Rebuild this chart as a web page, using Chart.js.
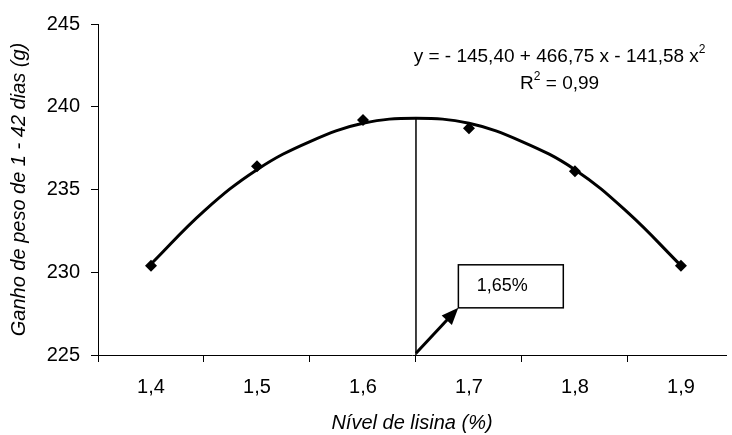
<!DOCTYPE html>
<html>
<head>
<meta charset="utf-8">
<script src="https://cdn.jsdelivr.net/npm/chart.js@4/dist/chart.umd.min.js"></script>
<style>
  html, body { margin: 0; padding: 0; background: #fff; }
  #wrap { width: 732px; height: 435px; }
</style>
</head>
<body>
<div id="wrap"><canvas id="chart" width="732" height="435"></canvas></div>
<script>
// lysine levels tested and weight gain measured at each
const lysine = [1.4, 1.5, 1.6, 1.7, 1.8, 1.9];
const tickLabels = ['1,4', '1,5', '1,6', '1,7', '1,8', '1,9'];
const gain = [230.4, 236.4, 239.2, 238.7, 236.1, 230.4];

// fitted quadratic trend
const curveX = [1.4, 1.45, 1.5, 1.55, 1.6, 1.65, 1.7, 1.75, 1.8, 1.85, 1.9];
const curveY = [230.5, 233.7, 236.2, 237.9, 239.0, 239.3, 239.0, 237.9, 236.2, 233.6, 230.4];

// axis tick marks sit between the level labels
const tickEdges = [1.35, 1.45, 1.55, 1.65, 1.75, 1.85];

// optimum level and its gain
const optimum = 1.65;
const peakGain = 239.3;
const optimumLabel = '1,65%';
const equation = 'y = - 145,40 + 466,75 x - 141,58 x';
const rSquared = 'R';
const rSquaredValue = ' = 0,99';

const FONT = '"Liberation Sans", Arial, sans-serif';

const notes = {
    id: 'notes',
    afterDatasetsDraw(chart) {
        const ctx = chart.ctx;
        const x = chart.scales.x, y = chart.scales.y;
        ctx.save();
        ctx.strokeStyle = '#000';
        ctx.fillStyle = '#000';

        // vertical line at the optimum
        ctx.lineWidth = 1.5;
        ctx.beginPath();
        ctx.moveTo(x.getPixelForValue(optimum), y.getPixelForValue(225));
        ctx.lineTo(x.getPixelForValue(optimum), y.getPixelForValue(peakGain));
        ctx.stroke();

        // label box
        const bx0 = x.getPixelForValue(1.69), bx1 = x.getPixelForValue(1.789);
        const by0 = y.getPixelForValue(230.45), by1 = y.getPixelForValue(227.85);
        ctx.fillStyle = '#fff';
        ctx.fillRect(bx0, by0, bx1 - bx0, by1 - by0);
        ctx.fillStyle = '#000';
        ctx.lineWidth = 1.5;
        ctx.strokeRect(bx0, by0, bx1 - bx0, by1 - by0);
        ctx.font = '18px ' + FONT;
        ctx.textAlign = 'center';
        ctx.textBaseline = 'middle';
        ctx.fillText(optimumLabel, x.getPixelForValue(1.7313), (by0 + by1) / 2);

        // arrow from the optimum to the box corner
        const ax0 = x.getPixelForValue(optimum), ay0 = y.getPixelForValue(225.1);
        const ax1 = bx0, ay1 = by1;
        const ang = Math.atan2(ay1 - ay0, ax1 - ax0);
        const headLen = 17, headW = 7;
        ctx.lineWidth = 3;
        ctx.beginPath();
        ctx.moveTo(ax0, ay0);
        ctx.lineTo(ax1 - Math.cos(ang) * (headLen - 2), ay1 - Math.sin(ang) * (headLen - 2));
        ctx.stroke();
        ctx.beginPath();
        ctx.moveTo(ax1, ay1);
        ctx.lineTo(ax1 - Math.cos(ang) * headLen + Math.sin(ang) * headW,
                   ay1 - Math.sin(ang) * headLen - Math.cos(ang) * headW);
        ctx.lineTo(ax1 - Math.cos(ang) * headLen - Math.sin(ang) * headW,
                   ay1 - Math.sin(ang) * headLen + Math.cos(ang) * headW);
        ctx.closePath();
        ctx.fill();

        // regression equation and R²
        const cx = x.getPixelForValue(1.7855);
        ctx.font = '19px ' + FONT;
        ctx.textAlign = 'left';
        ctx.textBaseline = 'alphabetic';
        const small = '12px ' + FONT;
        let w1 = ctx.measureText(equation).width;
        ctx.font = small;
        const sup = ctx.measureText('2').width;
        let left = cx - (w1 + sup) / 2;
        const base1 = y.getPixelForValue(242.7);
        ctx.font = '19px ' + FONT;
        ctx.fillText(equation, left, base1);
        ctx.font = small;
        ctx.fillText('2', left + w1, base1 - 9);

        ctx.font = '19px ' + FONT;
        const wr = ctx.measureText(rSquared).width;
        const wv = ctx.measureText(rSquaredValue).width;
        left = cx - (wr + sup + wv) / 2;
        const base2 = y.getPixelForValue(241.1);
        ctx.fillText(rSquared, left, base2);
        ctx.fillText(rSquaredValue, left + wr + sup, base2);
        ctx.font = small;
        ctx.fillText('2', left + wr, base2 - 9);
        ctx.restore();
    }
};

new Chart(document.getElementById('chart'), {
    type: 'scatter',
    data: {
        datasets: [
            {
                label: 'Tendência',
                type: 'line',
                data: curveX.map((v, i) => ({ x: v, y: curveY[i] })),
                borderColor: '#000',
                borderWidth: 3,
                pointRadius: 0,
                tension: 0.4,
                fill: false,
                order: 2
            },
            {
                label: 'Ganho de peso',
                data: lysine.map((v, i) => ({ x: v, y: gain[i] })),
                pointStyle: 'rectRot',
                pointRadius: 6,
                backgroundColor: '#000',
                borderColor: '#000',
                borderWidth: 0,
                order: 1
            }
        ]
    },
    options: {
        responsive: false,
        animation: false,
        layout: { padding: { top: 24, right: 0, left: 0, bottom: 0 } },
        plugins: { legend: { display: false }, tooltip: { enabled: false } },
        scales: {
            x: {
                type: 'linear',
                min: 1.35,
                max: 1.9425,
                afterBuildTicks: scale => {
                    scale.ticks = tickEdges.concat(lysine)
                        .sort((a, b) => a - b)
                        .map(v => ({ value: v }));
                },
                afterFit: scale => { scale.height = 80; },
                border: { display: true, color: '#000', width: 1 },
                grid: {
                    drawOnChartArea: false,
                    tickLength: 7,
                    tickWidth: 1,
                    tickColor: c => lysine.includes(c.tick.value) ? 'rgba(0,0,0,0)' : '#000'
                },
                ticks: {
                    autoSkip: false,
                    maxRotation: 0,
                    padding: 13,
                    color: '#000',
                    font: { family: FONT, size: 20 },
                    callback: v => {
                        const i = lysine.indexOf(v);
                        return i >= 0 ? tickLabels[i] : '';
                    }
                },
                title: {
                    display: true,
                    text: 'Nível de lisina (%)',
                    color: '#000',
                    font: { family: FONT, size: 20, style: 'italic' },
                    padding: { top: 0, bottom: 0 }
                }
            },
            y: {
                min: 225,
                max: 245,
                afterFit: scale => { scale.width = 98; },
                border: { display: true, color: '#000', width: 1 },
                grid: {
                    drawOnChartArea: false,
                    tickLength: 7,
                    tickColor: '#000'
                },
                ticks: {
                    stepSize: 5,
                    padding: 11,
                    color: '#000',
                    font: { family: FONT, size: 20 }
                },
                title: {
                    display: true,
                    text: 'Ganho de peso de 1 - 42 dias (g)',
                    color: '#000',
                    font: { family: FONT, size: 20, style: 'italic' },
                    padding: { top: 7, bottom: 0 }
                }
            }
        }
    },
    plugins: [notes]
});
</script>
</body>
</html>
